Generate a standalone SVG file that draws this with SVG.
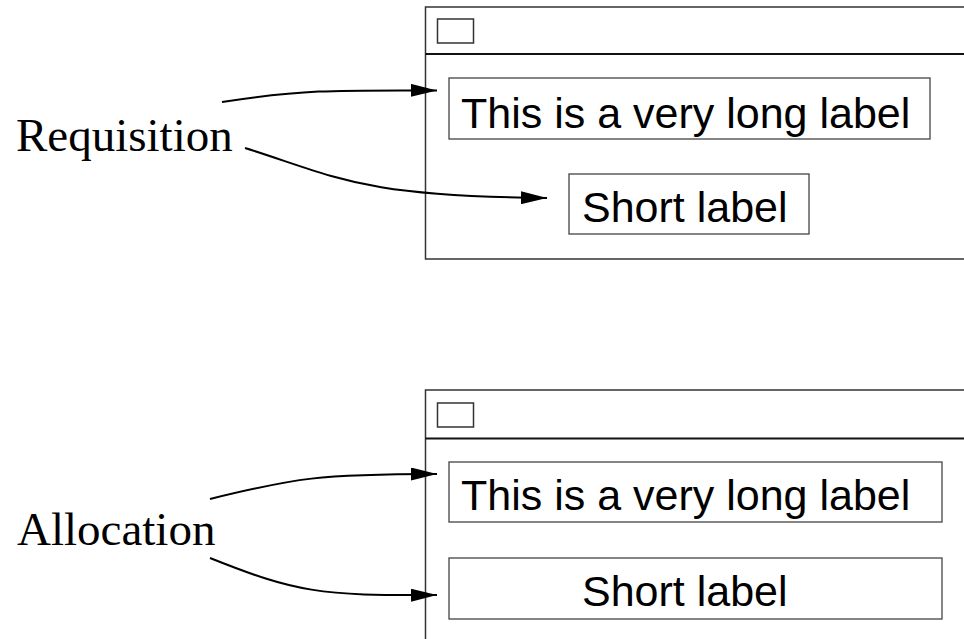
<svg xmlns="http://www.w3.org/2000/svg" width="964" height="639" viewBox="0 0 964 639">
  <style>
    .win { fill: #ffffff; stroke: #333333; stroke-width: 1.5; }
    .bar { stroke: #111111; stroke-width: 2; }
    .btn { fill: #ffffff; stroke: #333333; stroke-width: 1.5; }
    .lbl { fill: #ffffff; stroke: #444444; stroke-width: 1.3; }
    .txt { font-family: "Liberation Sans", Arial, sans-serif; font-size: 43px; fill: #000000; }
    .cap { font-family: "Liberation Serif", "Times New Roman", serif; font-size: 47px; fill: #000000; }
    .arrow { fill: none; stroke: #000000; stroke-width: 2; marker-end: url(#head); }
  </style>
  <defs>
    <marker id="head" markerUnits="userSpaceOnUse" markerWidth="26" markerHeight="13" refX="26" refY="6.5" orient="auto">
      <path d="M0,0 L26,6.5 L0,13 z" fill="#000000"/>
    </marker>
  </defs>
  <rect width="964" height="639" fill="#ffffff"/>

  <!-- upper window: requested sizes -->
  <g id="window-requisition">
    <rect class="win" x="425.5" y="7" width="600" height="252"/>
    <line class="bar" x1="425.5" y1="54" x2="964" y2="54"/>
    <rect class="btn" x="437.5" y="19" width="36" height="24"/>
  </g>
  <g id="req-long-label">
    <rect class="lbl" x="449" y="78" width="481" height="61"/>
    <text class="txt" x="461" y="128">This is a very long label</text>
  </g>
  <g id="req-short-label">
    <rect class="lbl" x="569" y="174" width="240" height="60"/>
    <text class="txt" x="582" y="222">Short label</text>
  </g>
  <g id="caption-requisition">
    <text class="cap" x="16" y="150.5">Requisition</text>
  </g>

  <!-- lower window: allocated sizes -->
  <g id="window-allocation">
    <rect class="win" x="425.5" y="390" width="600" height="300"/>
    <line class="bar" x1="425.5" y1="438.5" x2="964" y2="438.5"/>
    <rect class="btn" x="437.5" y="403" width="36" height="24"/>
  </g>
  <g id="alloc-long-label">
    <rect class="lbl" x="449" y="462" width="493" height="60"/>
    <text class="txt" x="461" y="509.5">This is a very long label</text>
  </g>
  <g id="alloc-short-label">
    <rect class="lbl" x="449" y="558" width="493" height="61"/>
    <text class="txt" x="582" y="606">Short label</text>
  </g>
  <g id="caption-allocation">
    <text class="cap" x="17" y="545">Allocation</text>
  </g>

  <!-- connectors -->
  <g id="connectors">
    <path class="arrow" d="M222,102 C300,90 330,90 437,90.5"/>
    <path class="arrow" d="M245,148 C340,178 360,196 547,198"/>
    <path class="arrow" d="M210,499 C295,478 320,474 437,474"/>
    <path class="arrow" d="M210,558 C295,592 320,596 437,595"/>
  </g>
</svg>
